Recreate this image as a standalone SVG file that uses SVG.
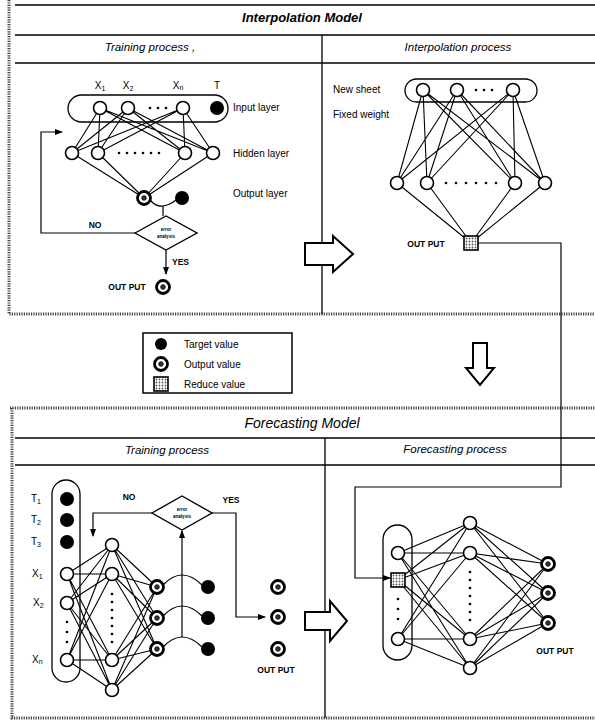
<svg xmlns="http://www.w3.org/2000/svg" width="595" height="722" viewBox="0 0 595 722">
<style>
text{font-family:"Liberation Sans",Arial,sans-serif;fill:#000}
.ttl{font-size:13px;font-style:italic;font-weight:bold}
.sub{font-size:11.5px;font-style:italic}
.lbl{font-size:10px}
.sm{font-size:8.5px;font-weight:bold}
.tiny{font-size:4.6px;font-weight:bold}
.rule{stroke:#000;stroke-width:1.3;fill:none}
.dot{stroke:#444;stroke-width:3;stroke-dasharray:1.2 1.2;fill:none}
.w{stroke:#000;stroke-width:1.1;fill:none}
.n{fill:#fff;stroke:#000;stroke-width:1.6}
.tg{fill:#000}
.pill{fill:none;stroke:#000;stroke-width:1.3}
.d{fill:#000}
.c{stroke:#000;stroke-width:1.2;fill:none}
.blk{fill:#fff;stroke:#000;stroke-width:2}
</style>
<defs>
<pattern id="pt" width="3" height="3" patternUnits="userSpaceOnUse"><rect width="3" height="3" fill="#fff"/><circle cx="1.5" cy="1.5" r="0.9" fill="#555"/></pattern>
<g id="ov"><circle r="6.5" fill="#fff" stroke="#000" stroke-width="2.8"/><circle r="2.3" fill="#333" stroke="#000" stroke-width="0.8"/></g>
<g id="rv"><rect x="-7" y="-7" width="14" height="14" fill="url(#pt)" stroke="#000" stroke-width="1.6"/></g>
<marker id="ah" markerWidth="8" markerHeight="6" refX="7" refY="3" orient="auto" markerUnits="userSpaceOnUse"><path d="M0,0 L8,3 L0,6 Z" fill="#000"/></marker>
</defs>

<!-- frames -->
<g id="frame-interpolation">
<path class="dot" d="M9,0 V314 H595"/>
<path class="rule" d="M15,5 H595 M15,35 H595 M15,63 H595 M322,35 V314"/>
<text class="ttl" x="302" y="22" text-anchor="middle">Interpolation Model</text>
<text class="sub" x="150" y="51" text-anchor="middle">Training process  ,</text>
<text class="sub" x="458" y="51" text-anchor="middle">Interpolation process</text>
</g>
<g id="frame-forecasting">
<path class="dot" d="M10,408 H595 M12,408 V718 H595"/>
<path class="rule" d="M15,438 H595 M15,465 H595 M325,438 V718"/>
<text class="ttl" style="font-weight:normal;font-size:14px" x="302" y="428" text-anchor="middle">Forecasting Model</text>
<text class="sub" x="167" y="454" text-anchor="middle">Training process</text>
<text class="sub" x="455" y="453" text-anchor="middle">Forecasting process</text>
</g>

<!-- connectors -->
<g id="connectors">
<path class="w" d="M100,108L72,153 M100,108L98,153 M100,108L185,153 M100,108L213,153 M128,108L72,153 M128,108L98,153 M128,108L185,153 M128,108L213,153 M183,108L72,153 M183,108L98,153 M183,108L185,153 M183,108L213,153 M72,153L144,198 M98,153L144,198 M185,153L144,198 M213,153L144,198"/>
<path class="c" d="M150,200 Q156,207 163,206 Q170,205 176,200 M163,206 V216"/>
<path class="c" d="M135,233 H41 V132 H62" marker-end="url(#ah)"/>
<path class="c" d="M166,250 V274" marker-end="url(#ah)"/>
<path class="w" d="M423,90L397,183 M423,90L427,183 M423,90L515,183 M423,90L545,183 M457,90L397,183 M457,90L427,183 M457,90L515,183 M457,90L545,183 M513,90L397,183 M513,90L427,183 M513,90L515,183 M513,90L545,183 M397,183L471,243 M427,183L471,243 M515,183L471,243 M545,183L471,243"/>
<path class="c" d="M478,243 H561 V487 H355 V578 H390" marker-end="url(#ah)"/>
<path class="w" d="M67,574L112,545 M67,574L112,574 M67,574L112,660 M67,574L112,690 M67,603L112,545 M67,603L112,574 M67,603L112,660 M67,603L112,690 M67,660L112,545 M67,660L112,574 M67,660L112,660 M67,660L112,690 M112,545L157,587 M112,545L157,618 M112,545L157,649 M112,574L157,587 M112,574L157,618 M112,574L157,649 M112,660L157,587 M112,660L157,618 M112,660L157,649 M112,690L157,587 M112,690L157,618 M112,690L157,649"/>
<path class="c" d="M163,585 Q182,565 202,585 M163,616 Q182,596 202,616 M163,647 Q182,627 202,647"/>
<path class="c" d="M182,637 V531" marker-end="url(#ah)"/>
<path class="c" d="M152,513 H93 V536" marker-end="url(#ah)"/>
<path class="c" d="M212,513 H236 V617 H265" marker-end="url(#ah)"/>
<path class="w" d="M398,553L470,523 M398,553L470,553 M398,553L470,639 M398,553L470,668 M398,580L470,523 M398,580L470,553 M398,580L470,639 M398,580L470,668 M398,639L470,523 M398,639L470,553 M398,639L470,639 M398,639L470,668 M470,523L548,564 M470,523L548,593 M470,523L548,623 M470,553L548,564 M470,553L548,593 M470,553L548,623 M470,639L548,564 M470,639L548,593 M470,639L548,623 M470,668L548,564 M470,668L548,593 M470,668L548,623"/>
</g>

<!-- top-left training network -->
<g id="it-input-layer">
<rect class="pill" x="68" y="95" width="160" height="27" rx="13.5"/>
<circle class="n" cx="100" cy="108" r="6.5"/>
<circle class="n" cx="128" cy="108" r="6.5"/>
<circle class="n" cx="183" cy="108" r="6.5"/>
<circle class="tg" cx="217" cy="108" r="7"/>
<circle class="d" cx="150" cy="108" r="1.3"/><circle class="d" cx="158" cy="108" r="1.3"/><circle class="d" cx="166" cy="108" r="1.3"/>
<text class="lbl" x="100" y="89" text-anchor="middle">X<tspan font-size="7" dy="1.5">1</tspan></text>
<text class="lbl" x="128" y="89" text-anchor="middle">X<tspan font-size="7" dy="1.5">2</tspan></text>
<text class="lbl" x="178" y="89" text-anchor="middle">X<tspan font-size="7" dy="1">n</tspan></text>
<text class="lbl" x="217" y="89" text-anchor="middle">T</text>
<text class="lbl" x="233" y="111">Input layer</text>
</g>
<g id="it-hidden-layer">
<circle class="n" cx="72" cy="153" r="6.5"/>
<circle class="n" cx="98" cy="153" r="6.5"/>
<circle class="n" cx="185" cy="153" r="6.5"/>
<circle class="n" cx="213" cy="153" r="6.5"/>
<circle class="d" cx="119" cy="153" r="1.3"/><circle class="d" cx="127" cy="153" r="1.3"/><circle class="d" cx="135" cy="153" r="1.3"/><circle class="d" cx="143" cy="153" r="1.3"/><circle class="d" cx="151" cy="153" r="1.3"/><circle class="d" cx="159" cy="153" r="1.3"/>
<text class="lbl" x="233" y="157">Hidden layer</text>
</g>
<g id="it-output-layer">
<use href="#ov" x="144" y="198"/>
<circle class="tg" cx="182" cy="198" r="7"/>
<text class="lbl" x="233" y="197">Output layer</text>
</g>
<g id="it-error">
<polygon points="135,233 166,216 197,233 166,250" fill="#fff" stroke="#000" stroke-width="1.4"/>
<text class="tiny" x="166" y="231" text-anchor="middle">error</text>
<text class="tiny" x="166" y="238" text-anchor="middle">analysis</text>
<text class="sm" x="95" y="228" text-anchor="middle">NO</text>
<text class="sm" x="172" y="265">YES</text>
</g>
<g id="it-output">
<text class="sm" x="127" y="290" text-anchor="middle">OUT PUT</text>
<use href="#ov" x="163" y="287"/>
</g>

<!-- interpolation network -->
<g id="ip-input">
<rect class="pill" x="405" y="79" width="132" height="23" rx="11.5"/>
<circle class="n" cx="423" cy="90" r="6.5"/>
<circle class="n" cx="457" cy="90" r="6.5"/>
<circle class="n" cx="513" cy="90" r="6.5"/>
<circle class="d" cx="476" cy="90" r="1.3"/><circle class="d" cx="484" cy="90" r="1.3"/><circle class="d" cx="492" cy="90" r="1.3"/>
<text class="lbl" x="333" y="93">New sheet</text>
<text class="lbl" x="333" y="118">Fixed weight</text>
</g>
<g id="ip-hidden">
<circle class="n" cx="397" cy="183" r="6.5"/>
<circle class="n" cx="427" cy="183" r="6.5"/>
<circle class="n" cx="515" cy="183" r="6.5"/>
<circle class="n" cx="545" cy="183" r="6.5"/>
<circle class="d" cx="446" cy="183" r="1.3"/><circle class="d" cx="456" cy="183" r="1.3"/><circle class="d" cx="466" cy="183" r="1.3"/><circle class="d" cx="476" cy="183" r="1.3"/><circle class="d" cx="486" cy="183" r="1.3"/><circle class="d" cx="496" cy="183" r="1.3"/>
</g>
<g id="ip-output">
<use href="#rv" x="471" y="243"/>
<text class="sm" x="426" y="247" text-anchor="middle">OUT PUT</text>
</g>
<g id="arrow-top">
<polygon class="blk" points="305,243 333,243 333,236 353,254 333,272 333,265 305,265"/>
</g>

<!-- legend -->
<g id="legend">
<rect x="143" y="333" width="149" height="60" fill="#fff" stroke="#000" stroke-width="1.5"/>
<circle class="tg" cx="161" cy="344" r="6"/>
<text class="lbl" x="184" y="348">Target value</text>
<use href="#ov" x="161" y="364"/>
<text class="lbl" x="184" y="368">Output value</text>
<use href="#rv" x="161" y="384"/>
<text class="lbl" x="184" y="388">Reduce value</text>
</g>
<g id="arrow-down">
<polygon class="blk" points="473,343 487,343 487,368 494,368 480,385 466,368 473,368"/>
</g>

<!-- forecasting training network -->
<g id="ft-input">
<rect class="pill" x="52" y="480" width="28" height="202" rx="14"/>
<circle class="tg" cx="67" cy="499" r="7"/>
<circle class="tg" cx="67" cy="520" r="7"/>
<circle class="tg" cx="67" cy="542" r="7"/>
<circle class="n" cx="67" cy="574" r="6.5"/>
<circle class="n" cx="67" cy="603" r="6.5"/>
<circle class="n" cx="67" cy="660" r="6.5"/>
<circle class="d" cx="67" cy="622" r="1.3"/><circle class="d" cx="67" cy="632" r="1.3"/><circle class="d" cx="67" cy="642" r="1.3"/>
<text class="lbl" x="31" y="502">T<tspan font-size="7" dy="1.5">1</tspan></text>
<text class="lbl" x="31" y="523">T<tspan font-size="7" dy="1.5">2</tspan></text>
<text class="lbl" x="31" y="545">T<tspan font-size="7" dy="1.5">3</tspan></text>
<text class="lbl" x="32" y="577">X<tspan font-size="7" dy="1.5">1</tspan></text>
<text class="lbl" x="33" y="606">X<tspan font-size="7" dy="1.5">2</tspan></text>
<text class="lbl" x="32" y="663">X<tspan font-size="7" dy="1">n</tspan></text>
</g>
<g id="ft-hidden">
<circle class="n" cx="112" cy="545" r="6.5"/>
<circle class="n" cx="112" cy="574" r="6.5"/>
<circle class="n" cx="112" cy="660" r="6.5"/>
<circle class="n" cx="112" cy="690" r="6.5"/>
<circle class="d" cx="112" cy="594" r="1.3"/><circle class="d" cx="112" cy="602" r="1.3"/><circle class="d" cx="112" cy="610" r="1.3"/><circle class="d" cx="112" cy="618" r="1.3"/><circle class="d" cx="112" cy="626" r="1.3"/><circle class="d" cx="112" cy="634" r="1.3"/><circle class="d" cx="112" cy="642" r="1.3"/>
</g>
<g id="ft-output">
<use href="#ov" x="157" y="587"/>
<use href="#ov" x="157" y="618"/>
<use href="#ov" x="157" y="649"/>
</g>
<g id="ft-target">
<circle class="tg" cx="208" cy="587" r="7"/>
<circle class="tg" cx="208" cy="618" r="7"/>
<circle class="tg" cx="208" cy="649" r="7"/>
</g>
<g id="ft-error">
<polygon points="152,513 182,496 212,513 182,530" fill="#fff" stroke="#000" stroke-width="1.4"/>
<text class="tiny" x="182" y="511" text-anchor="middle">error</text>
<text class="tiny" x="182" y="518" text-anchor="middle">analysis</text>
<text class="sm" x="129" y="500" text-anchor="middle">NO</text>
<text class="sm" x="231" y="503" text-anchor="middle">YES</text>
</g>
<g id="ft-result">
<use href="#ov" x="278" y="587"/>
<use href="#ov" x="278" y="617"/>
<use href="#ov" x="278" y="649"/>
<text class="sm" x="276" y="673" text-anchor="middle">OUT PUT</text>
</g>
<g id="arrow-bottom">
<polygon class="blk" points="305,612 330,612 330,601 347,621 330,641 330,630 305,630"/>
</g>

<!-- forecasting process network -->
<g id="fp-input">
<rect class="pill" x="383" y="525" width="29" height="135" rx="14.5"/>
<circle class="n" cx="398" cy="553" r="6.5"/>
<use href="#rv" x="398" y="580"/>
<circle class="d" cx="398" cy="599" r="1.3"/><circle class="d" cx="398" cy="609" r="1.3"/><circle class="d" cx="398" cy="619" r="1.3"/>
<circle class="n" cx="398" cy="639" r="6.5"/>
</g>
<g id="fp-hidden">
<circle class="n" cx="470" cy="523" r="6.5"/>
<circle class="n" cx="470" cy="553" r="6.5"/>
<circle class="n" cx="470" cy="639" r="6.5"/>
<circle class="n" cx="470" cy="668" r="6.5"/>
<circle class="d" cx="470" cy="572" r="1.3"/><circle class="d" cx="470" cy="580" r="1.3"/><circle class="d" cx="470" cy="588" r="1.3"/><circle class="d" cx="470" cy="596" r="1.3"/><circle class="d" cx="470" cy="604" r="1.3"/><circle class="d" cx="470" cy="612" r="1.3"/><circle class="d" cx="470" cy="620" r="1.3"/>
</g>
<g id="fp-output">
<use href="#ov" x="548" y="564"/>
<use href="#ov" x="548" y="593"/>
<use href="#ov" x="548" y="623"/>
<text class="sm" x="555" y="654" text-anchor="middle">OUT PUT</text>
</g>
</svg>
